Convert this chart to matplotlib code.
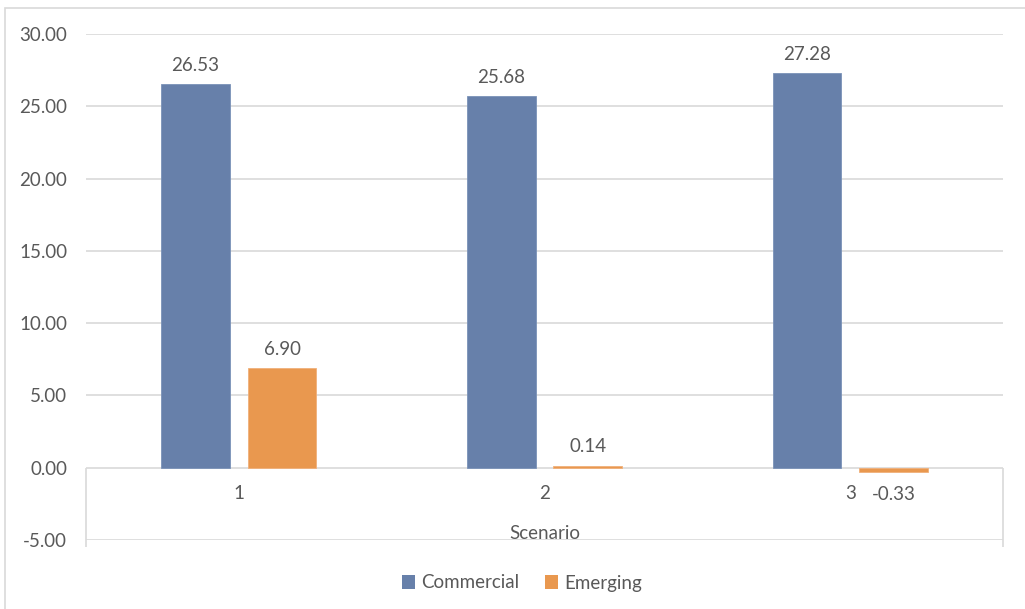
import numpy as np
import matplotlib
matplotlib.use("Agg")
import matplotlib.pyplot as plt
from matplotlib.patches import Rectangle, Patch

# data
scenarios = ["1", "2", "3"]
commercial = [26.53, 25.68, 27.28]
emerging = [6.90, 0.14, -0.33]
series_names = ["Commercial", "Emerging"]
yticks = [-5, 0, 5, 10, 15, 20, 25, 30]

blue = "#6780AA"
orange = "#E9984F"
grid = "#D9D9D9"
txt = "#595959"
fs = 13.5

plt.rcParams["font.family"] = ["Lato", "DejaVu Sans"]

fig = plt.figure(figsize=(10.25, 6.09), dpi=100)
W, H = 1025, 609
ax = fig.add_axes([86 / W, 1 - 540 / H, 917 / W, 506 / H])

x = np.arange(len(scenarios))
bw = 0.225
off = 0.1415
b1 = ax.bar(x - off, commercial, bw, color=blue, edgecolor="#7A92B8", linewidth=0.6, zorder=3)
b2 = ax.bar(x + off, emerging, bw, color=orange, edgecolor="#F0B07A", linewidth=0.6, zorder=3)

for bars, vals in ((b1, commercial), (b2, emerging)):
    for r, v in zip(bars, vals):
        cx = r.get_x() + r.get_width() / 2
        if v >= 0:
            ax.annotate(f"{v:.2f}", (cx, v), xytext=(0, 13.5), textcoords="offset points",
                        ha="center", va="center", fontsize=fs, color=txt)
        else:
            ax.annotate(f"{v:.2f}", (cx, v), xytext=(0, -16), textcoords="offset points",
                        ha="center", va="center", fontsize=fs, color=txt)

ax.set_xlim(-0.5, len(scenarios) - 0.5)
ax.set_ylim(-5, 30)
ax.set_yticks(yticks)
ax.set_yticklabels([f"{t:.2f}" for t in yticks])
ax.tick_params(axis="y", length=0, pad=13.5, labelsize=fs, labelcolor=txt)
ax.set_xticks([])
for s in ax.spines.values():
    s.set_visible(False)
for t in yticks:
    ax.axhline(t, color=grid, linewidth=1.2, zorder=1)

# category axis box below zero
ax.vlines([-0.5, len(scenarios) - 0.5], -5.5, 0, color=grid, linewidth=1.2, clip_on=False, zorder=1)
for i, s in enumerate(scenarios):
    ax.annotate(s, (x[i], 0), xytext=(0, -18.5), textcoords="offset points",
                ha="center", va="center", fontsize=fs, color=txt)
ax.annotate("Scenario", (x[1], -5), xytext=(0, 5), textcoords="offset points",
            ha="center", va="center", fontsize=fs, color=txt)

handles = [Patch(facecolor=blue), Patch(facecolor=orange)]
fig.legend(handles, series_names, loc="center", bbox_to_anchor=(522 / W, 1 - 583 / H),
           ncol=2, frameon=False, fontsize=fs, labelcolor=txt,
           handlelength=0.7, handleheight=0.7, handletextpad=0.3, columnspacing=1.4)

# outer chart border
fig.patches.append(Rectangle((5 / W, -0.02), 1.1, 1 - 8 / H + 0.02, transform=fig.transFigure,
                             fill=False, edgecolor=grid, linewidth=1.2))

fig.savefig("out.png", dpi=100)
